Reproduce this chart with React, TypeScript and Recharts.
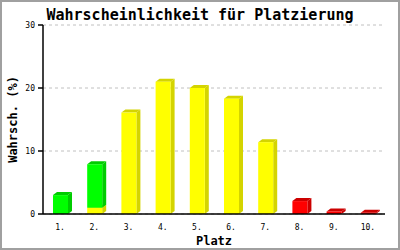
import { BarChart, Bar, XAxis, YAxis, CartesianGrid } from 'recharts';

const places = ['1.', '2.', '3.', '4.', '5.', '6.', '7.', '8.', '9.', '10.'];
const yellowValues = [0, 1.0, 16.1, 21.0, 20.0, 18.3, 11.4, 0, 0, 0];
const greenValues = [3.0, 6.9, 0, 0, 0, 0, 0, 0, 0, 0];
const redValues = [0, 0, 0, 0, 0, 0, 0, 2.05, 0.4, 0.2];
const yTicks = [0, 10, 20, 30];

const data = places.map((p, i) => ({
    place: p,
    yellow: yellowValues[i],
    green: greenValues[i],
    red: redValues[i],
}));

const mono = '"DejaVu Sans Mono", "Liberation Mono", monospace';

// Balken mit 3D-Effekt (Seite + Deckel)
function Bar3D(props: any) {
    const { x, y, width, height, fill, dark } = props;
    if (!height || height <= 0) return null;
    const d = 4;
    const dy = 3;
    return (
        <g>
            <polygon
                points={`${x + width},${y} ${x + width + d},${y - dy} ${x + width + d},${y + height - dy} ${x + width},${y + height}`}
                fill={dark}
            />
            <polygon
                points={`${x},${y} ${x + d},${y - dy} ${x + width + d},${y - dy} ${x + width},${y}`}
                fill={dark}
            />
            <rect x={x} y={y} width={width} height={height} fill={fill} />
        </g>
    );
}

export default function App() {
    return (
        <div
            style={{
                position: 'absolute',
                left: 0,
                top: 0,
                width: 400,
                height: 250,
                boxSizing: 'border-box',
                border: '2px solid #a0a0a0',
                background: '#fff',
            }}
        >
            <div
                style={{
                    position: 'absolute',
                    left: 0,
                    top: 4,
                    width: 396,
                    textAlign: 'center',
                    fontFamily: mono,
                    fontWeight: 'bold',
                    fontSize: 15,
                    lineHeight: '18px',
                }}
            >
                Wahrscheinlichkeit für Platzierung
            </div>
            <div style={{ position: 'absolute', left: -2, top: -2 }}>
                <BarChart
                    width={400}
                    height={250}
                    data={data}
                    margin={{ top: 25, right: 15, left: 0, bottom: 0 }}
                    barCategoryGap={0}
                >
                    <CartesianGrid
                        vertical={false}
                        stroke="#c0c0c0"
                        strokeDasharray="3 3"
                    />
                    <XAxis
                        dataKey="place"
                        height={36}
                        tickLine={false}
                        axisLine={{ stroke: '#000', strokeWidth: 1.5 }}
                        tick={{ fontSize: 8, fontFamily: mono, fill: '#000' }}
                        tickMargin={4}
                        label={{
                            value: 'Platz',
                            position: 'insideBottom',
                            offset: 5,
                            fontSize: 12,
                            fontWeight: 'bold',
                            fontFamily: mono,
                            fill: '#000',
                        }}
                    />
                    <YAxis
                        width={43}
                        domain={[0, 30]}
                        ticks={yTicks}
                        tickSize={5}
                        tickMargin={3}
                        axisLine={{ stroke: '#000', strokeWidth: 1.5 }}
                        tickLine={{ stroke: '#000', strokeWidth: 1.5 }}
                        tick={{ fontSize: 8, fontFamily: mono, fill: '#000' }}
                        label={{
                            value: 'Wahrsch. (%)',
                            angle: -90,
                            position: 'insideLeft',
                            offset: 13,
                            fontSize: 12,
                            fontWeight: 'bold',
                            fontFamily: mono,
                            fill: '#000',
                            style: { textAnchor: 'middle' },
                        }}
                    />
                    <Bar
                        dataKey="yellow"
                        stackId="a"
                        barSize={15}
                        fill="#ffff00"
                        isAnimationActive={false}
                        shape={(p: any) => <Bar3D {...p} dark="#d4d400" />}
                    />
                    <Bar
                        dataKey="green"
                        stackId="a"
                        barSize={15}
                        fill="#00ff00"
                        isAnimationActive={false}
                        shape={(p: any) => <Bar3D {...p} dark="#00cc00" />}
                    />
                    <Bar
                        dataKey="red"
                        stackId="a"
                        barSize={15}
                        fill="#ff0000"
                        isAnimationActive={false}
                        shape={(p: any) => <Bar3D {...p} dark="#cc0000" />}
                    />
                </BarChart>
            </div>
        </div>
    );
}
